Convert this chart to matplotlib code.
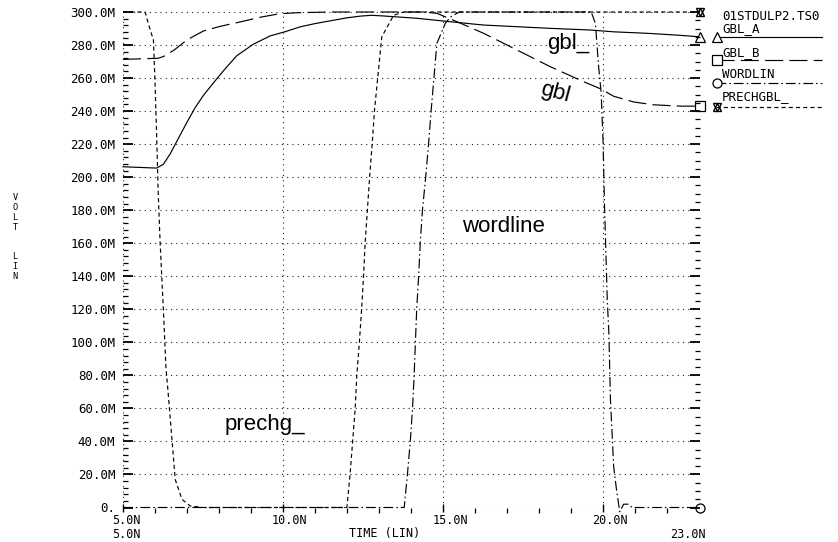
import matplotlib
matplotlib.use("Agg")
import matplotlib.pyplot as plt
from matplotlib.lines import Line2D
from matplotlib.ticker import MultipleLocator

plt.rcParams["lines.scale_dashes"] = False

# ---- waveform data (time in ns, voltage in mV) ----
time_gbl_a = [5.0, 6.05, 6.26, 6.47, 6.73, 6.99, 7.25, 7.51, 7.82, 8.14, 8.55, 9.07,
              9.59, 10.05, 10.53, 11.0, 11.57, 12.0, 12.41, 12.75, 13.13, 14.18,
              15.22, 16.26, 17.30, 18.34, 19.59, 20.32, 21.37, 22.3, 23.0]
gbl_a = [206.3, 205.5, 207.8, 214.0, 223.5, 233.0, 242.0, 249.5, 257.0, 264.5, 273.5,
         280.5, 285.5, 288.0, 291.0, 293.0, 295.0, 296.5, 297.5, 298.0, 297.6, 296.2,
         294.1, 292.1, 291.1, 290.1, 289.1, 288.0, 287.1, 286.0, 285.0]

time_gbl_b = [5.0, 6.1, 6.26, 6.6, 6.99, 7.51, 8.03, 8.66, 9.28, 9.9, 10.5, 11.5,
              12.5, 13.5, 14.4, 14.8, 15.43, 16.26, 17.30, 18.34, 19.38, 19.91,
              20.32, 20.95, 21.58, 22.41, 23.0]
gbl_b = [271.3, 272.0, 273.0, 277.0, 283.0, 288.5, 291.3, 294.0, 296.8, 299.0, 299.6,
         300.0, 300.0, 300.0, 300.0, 299.2, 294.1, 287.1, 277.0, 266.9, 257.8, 253.5,
         249.0, 245.5, 243.8, 243.0, 243.0]

time_wordline = [5.0, 13.78, 13.88, 13.97, 14.04, 14.09, 14.13, 14.17, 14.23, 14.28,
                 14.35, 14.45, 14.54, 14.62, 14.80, 15.06, 15.22, 15.5, 19.62, 19.75,
                 19.85, 19.93, 19.99, 20.03, 20.12, 20.17, 20.22, 20.27, 20.32, 20.41,
                 20.51, 20.63, 20.78, 20.9, 23.0]
wordline = [0.0, 0.0, 20.0, 40.0, 60.0, 80.0, 100.0, 120.0, 140.0, 160.0, 180.0, 200.0,
            220.0, 240.0, 281.0, 293.0, 297.0, 300.0, 300.0, 293.0, 267.0, 251.0, 220.6,
            186.0, 125.7, 105.7, 65.0, 45.0, 24.7, 10.6, -2.6, 2.0, 2.0, 0.0, 0.0]

time_prechg = [5.0, 5.69, 5.79, 5.95, 6.0, 6.05, 6.10, 6.16, 6.26, 6.34, 6.42, 6.53,
               6.63, 6.84, 7.09, 7.5, 11.99, 12.09, 12.17, 12.25, 12.30, 12.38, 12.45,
               12.51, 12.56, 12.63, 12.70, 12.78, 12.85, 13.08, 13.45, 13.76, 23.0]
prechg = [300.0, 300.0, 293.0, 283.0, 257.0, 226.0, 190.0, 160.0, 120.0, 85.0, 67.0,
          41.0, 17.0, 5.0, 1.0, 0.0, 0.0, 20.0, 40.0, 60.0, 80.0, 100.0, 120.0, 140.0,
          160.0, 180.0, 200.0, 220.0, 240.0, 285.0, 298.0, 300.0, 300.0]

series_names = ["GBL_A", "GBL_B", "WORDLIN", "PRECHGBL_"]
file_title = "01STDULP2.TS0"

y_ticks = list(range(0, 301, 20))
y_tick_labels = ["0."] + [f"{v}.0M" for v in y_ticks[1:]]
x_ticks = [5, 10, 15, 20]
x_tick_labels = ["5.0N", "10.0N", "15.0N", "20.0N"]
x_start_label, x_end_label = "5.0N", "23.0N"
x_title = "TIME (LIN)"

# ---- styles ----
INK = "black"
MONO = "DejaVu Sans Mono"
LW = 0.85
styles = {
    "GBL_A": dict(linestyle="-", marker="^"),
    "GBL_B": dict(linestyle=(0, (13, 4.5)), marker="s"),
    "WORDLIN": dict(linestyle=(0, (7, 2.2, 1.1, 2.2)), marker="o"),
    "PRECHGBL_": dict(linestyle=(0, (3, 2.2)), marker=None),
}

W, H, DPI = 838, 542, 100
fig = plt.figure(figsize=(W / DPI, H / DPI), dpi=DPI)
fig.patch.set_facecolor("white")

def fx(px):
    return px / W

def fy(py):
    return 1 - py / H

L_PX, R_PX, B_PX, T_PX = 123, 699.5, 507.5, 12
ax = fig.add_axes([fx(L_PX), fy(B_PX), (R_PX - L_PX) / W, (B_PX - T_PX) / H])
ax.set_xlim(5, 23)
ax.set_ylim(0, 300)
for s in ax.spines.values():
    s.set_visible(False)

# grid
ax.set_xticks(x_ticks)
ax.set_yticks(y_ticks)
ax.grid(True, which="major", linestyle=(0, (0.8, 3.0)), color="#222222", linewidth=0.8)
ax.set_axisbelow(True)

# left axis ticks
ax.yaxis.set_minor_locator(MultipleLocator(4))
ax.tick_params(axis="y", which="major", direction="in", length=7, width=1.3,
               pad=5.5, labelsize=9, colors=INK)
ax.tick_params(axis="y", which="minor", direction="in", length=3.6, width=0.9)
ax.set_yticklabels(y_tick_labels, fontfamily=MONO)

# bottom axis ticks
ax.xaxis.set_minor_locator(MultipleLocator(1))
ax.tick_params(axis="x", which="major", direction="inout", length=6, width=1.0,
               labelbottom=False)
ax.tick_params(axis="x", which="minor", direction="out", length=3.4, width=0.9)

# right axis ticks
axr = ax.twinx()
axr.set_ylim(0, 300)
for s in axr.spines.values():
    s.set_visible(False)
axr.set_yticks(y_ticks)
axr.yaxis.set_minor_locator(MultipleLocator(5))
axr.tick_params(axis="y", which="major", direction="in", length=7, width=1.3,
                labelright=False)
axr.tick_params(axis="y", which="minor", direction="in", length=3.6, width=0.9)

# waveforms
curves = [(time_gbl_a, gbl_a), (time_gbl_b, gbl_b),
          (time_wordline, wordline), (time_prechg, prechg)]
for name, (t, v) in zip(series_names, curves):
    ax.plot(t, v, color=INK, lw=LW, linestyle=styles[name]["linestyle"],
            clip_on=False, zorder=3)

def hexagram(axis, x, y):
    for m in ("^", "v"):
        axis.plot([x], [y], marker=m, ms=6, mfc="none", mec=INK, mew=1.0,
                  linestyle="none", clip_on=False, zorder=5)

# end-of-trace markers
for name, (t, v) in zip(series_names, curves):
    m = styles[name]["marker"]
    if m is None:
        hexagram(ax, t[-1], v[-1])
    else:
        ax.plot([t[-1]], [v[-1]], marker=m, ms=6.5, mfc="white", mec=INK, mew=0.9,
                linestyle="none", clip_on=False, zorder=5)

# trace annotations
ann = dict(fontfamily="Liberation Sans", fontsize=16, color=INK)
ax.text(18.25, 277.6, "gbl_", ha="left", va="baseline", **ann)
ax.text(18.48, 251.0, "gbl", ha="center", va="center", rotation=-15, **ann)
ax.text(15.59, 166.8, "wordline", ha="left", va="baseline", **ann)
ax.text(8.16, 46.9, "prechg_", ha="left", va="baseline", **ann)

# x tick labels (two rows)
tk = dict(fontfamily=MONO, fontsize=8.5, color=INK, va="baseline", ha="left")
for xv, lab in zip(x_ticks, x_tick_labels):
    px = L_PX + (xv - 5) * (R_PX - L_PX) / 18
    fig.text(fx(px - 11), fy(524.0), lab, **tk)
fig.text(fx(L_PX - 11), fy(537.5), x_start_label, **tk)
fig.text(fx(R_PX - 29), fy(537.5), x_end_label, **tk)
fig.text(fx(385), fy(537.5), x_title, fontfamily=MONO, fontsize=8.5, color=INK,
         va="baseline", ha="center")

# y axis title (stacked letters)
yl = dict(fontfamily=MONO, fontsize=6.2, color=INK, ha="center", va="center",
          linespacing=1.12)
fig.text(fx(15), fy(212.5), "V\nO\nL\nT", **yl)
fig.text(fx(15), fy(266.5), "L\nI\nN", **yl)

# legend block
fig.text(fx(722), fy(20), file_title, fontfamily=MONO, fontsize=9, color=INK,
         va="baseline", ha="left")
leg_rows = [(31.7, 37.3), (56, 60), (78, 82.7), (100, 106.7)]
for name, (ty, ly) in zip(series_names, leg_rows):
    fig.text(fx(722), fy(ty), name, fontfamily=MONO, fontsize=9, color=INK,
             va="baseline", ha="left")
    fig.add_artist(Line2D([fx(716), fx(822)], [fy(ly), fy(ly)],
                          transform=fig.transFigure, color=INK, lw=LW,
                          linestyle=styles[name]["linestyle"]))
    m = styles[name]["marker"]
    if m is None:
        for mk in ("^", "v"):
            fig.add_artist(Line2D([fx(717)], [fy(ly)], transform=fig.transFigure,
                                  marker=mk, ms=6, mfc="none", mec=INK, mew=1.0,
                                  linestyle="none"))
    else:
        fig.add_artist(Line2D([fx(716.5)], [fy(ly)], transform=fig.transFigure,
                              marker=m, ms=6.5, mfc="white", mec=INK, mew=0.9,
                              linestyle="none"))

fig.savefig("out.png", dpi=DPI, facecolor="white")
